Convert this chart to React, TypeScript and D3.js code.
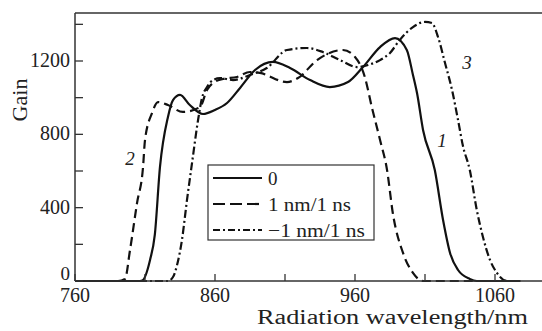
import React from "react";
import * as d3 from "d3";

// curve 1 (0)
const solidNm = [760, 790, 805, 808, 813.6, 817, 820.7, 826.4, 830, 835, 842, 851.4, 860, 868.6, 877.9, 888.6, 901.4, 913.6, 927.9, 942, 955, 965.7, 977.9, 988.6, 997, 1001.4, 1004.3, 1008.6, 1017, 1022.9, 1027.9, 1033.6, 1042, 1047, 1060, 1078];
const solidGain = [0, 0, 0, 3, 115, 251, 622, 895, 987, 1015, 960, 911, 933, 971, 1053, 1151, 1195, 1162, 1096, 1058, 1085, 1167, 1276, 1325, 1260, 1124, 1025, 824, 605, 333, 153, 60, 11, 0, 0, 0];

// curve 2 (1 nm/1 ns)
const dashNm = [760, 780, 790.7, 795.7, 799.3, 804.3, 808.6, 810, 815, 819.3, 826.4, 837, 849.3, 854.3, 858.6, 865.7, 875.7, 885, 892, 911.4, 919.3, 932.9, 951.4, 960, 967, 972, 977.9, 982.9, 987, 994.3, 1001.4, 1008.6, 1040, 1078];
const dashGain = [0, 0, 0, 11, 169, 425, 622, 769, 916, 976, 960, 922, 949, 1042, 1080, 1102, 1113, 1140, 1135, 1085, 1107, 1205, 1260, 1222, 1113, 949, 769, 605, 371, 153, 44, 0, 0, 0];

// curve 3 (-1 nm/1 ns)
const dotNm = [760, 800, 826.4, 830, 832.9, 836.4, 840, 843.6, 847.9, 850.7, 854.3, 858.6, 863.6, 872.9, 885, 897, 911.4, 925.7, 937, 949.3, 961.4, 969.3, 977.9, 985, 992, 1001.4, 1010, 1015, 1019.3, 1024.3, 1029.3, 1033.6, 1037, 1042, 1047, 1051.4, 1056.4, 1061.4, 1068.6, 1078];
const dotGain = [0, 0, 0, 22, 87, 224, 442, 644, 878, 998, 1058, 1096, 1107, 1096, 1124, 1162, 1260, 1271, 1249, 1205, 1167, 1178, 1205, 1244, 1315, 1385, 1413, 1407, 1331, 1189, 1042, 878, 740, 605, 387, 240, 115, 44, 0, 0];

const xTicks = [760, 860, 960, 1060];
const xMinor = [810, 910, 1010];
const yTicks = [0, 400, 800, 1200];
const yMinor = [200, 600, 1000, 1400];
const legendLabels = ["0", "1 nm/1 ns", "\u22121 nm/1 ns"];

const W = 542;
const H = 331;
const font = "Liberation Serif, Times New Roman, serif";

export default function App() {
  const x = d3.scaleLinear().domain([760, 1060]).range([75, 495]);
  const y = d3.scaleLinear().domain([0, 1200]).range([281, 61]);
  const left = 75, right = W, top = 13, bottom = 281;

  const line = d3
    .line<[number, number]>()
    .x((d) => x(d[0]))
    .y((d) => y(d[1]))
    .curve(d3.curveMonotoneX);

  const series = [
    { nm: solidNm, gain: solidGain, dash: "none", legendDash: "none" },
    { nm: dashNm, gain: dashGain, dash: "9 5", legendDash: "12 5" },
    { nm: dotNm, gain: dotGain, dash: "8 3 2 3", legendDash: "7 3 2 3" },
  ];

  return (
    <svg width={W} height={H} style={{ display: "block", position: "absolute", left: 0, top: 0, fontFamily: font }}>
      <rect width={W} height={H} fill="#fff" />
      {series.map((s, i) => (
        <path
          key={i}
          d={line(s.nm.map((v, j) => [v, s.gain[j]] as [number, number])) || ""}
          fill="none"
          stroke="#111"
          strokeWidth={2.2}
          strokeDasharray={s.dash}
        />
      ))}

      {/* frame */}
      <line x1={left} x2={right} y1={top} y2={top} stroke="#333" strokeWidth={1.5} />
      <line x1={left} x2={right} y1={bottom} y2={bottom} stroke="#333" strokeWidth={1.5} />
      <line x1={left} x2={left} y1={top} y2={bottom} stroke="#333" strokeWidth={1.5} />

      {[...xTicks, ...xMinor].map((t) => (
        <line key={"xt" + t} x1={x(t)} x2={x(t)} y1={bottom} y2={bottom - 7} stroke="#333" strokeWidth={1.3} />
      ))}
      {[...yTicks, ...yMinor].map((t) => (
        <line key={"yt" + t} x1={left} x2={left + 8} y1={y(t)} y2={y(t)} stroke="#333" strokeWidth={1.3} />
      ))}
      {xTicks.map((t) => (
        <text key={"xl" + t} x={x(t)} y={302} fontSize={20} textAnchor="middle" fill="#222">
          {t}
        </text>
      ))}
      {yTicks.map((t) => (
        <text key={"yl" + t} x={70} y={t === 0 ? 280 : y(t) + 6} fontSize={t === 0 ? 19 : 20} textAnchor="end" fill="#222">
          {t}
        </text>
      ))}

      <text x={257} y={324} fontSize={20} fill="#222" textLength={271} lengthAdjust="spacingAndGlyphs">
        Radiation wavelength/nm
      </text>
      <text transform="translate(27,100) rotate(-90)" fontSize={21} fill="#222" textAnchor="middle"
        textLength={43} lengthAdjust="spacingAndGlyphs">
        Gain
      </text>

      {/* curve labels */}
      <text x={130} y={165} fontSize={19} fontStyle="italic" textAnchor="middle" fill="#222">2</text>
      <text x={442} y={147} fontSize={19} fontStyle="italic" textAnchor="middle" fill="#222">1</text>
      <text x={467} y={69} fontSize={19} fontStyle="italic" textAnchor="middle" fill="#222">3</text>

      {/* legend */}
      <rect x={208} y={165} width={166} height={75} fill="#fff" stroke="#333" strokeWidth={1.2} />
      {legendLabels.map((lab, i) => {
        const cy = 178 + i * 26;
        return (
          <g key={lab}>
            <line x1={213} x2={262} y1={cy} y2={cy} stroke="#111" strokeWidth={2.2} strokeDasharray={series[i].legendDash} />
            <text x={268} y={cy + 7} fontSize={19} fill="#222"
              textLength={i === 0 ? undefined : i === 1 ? 83 : 97} lengthAdjust="spacingAndGlyphs">
              {lab}
            </text>
          </g>
        );
      })}
    </svg>
  );
}
